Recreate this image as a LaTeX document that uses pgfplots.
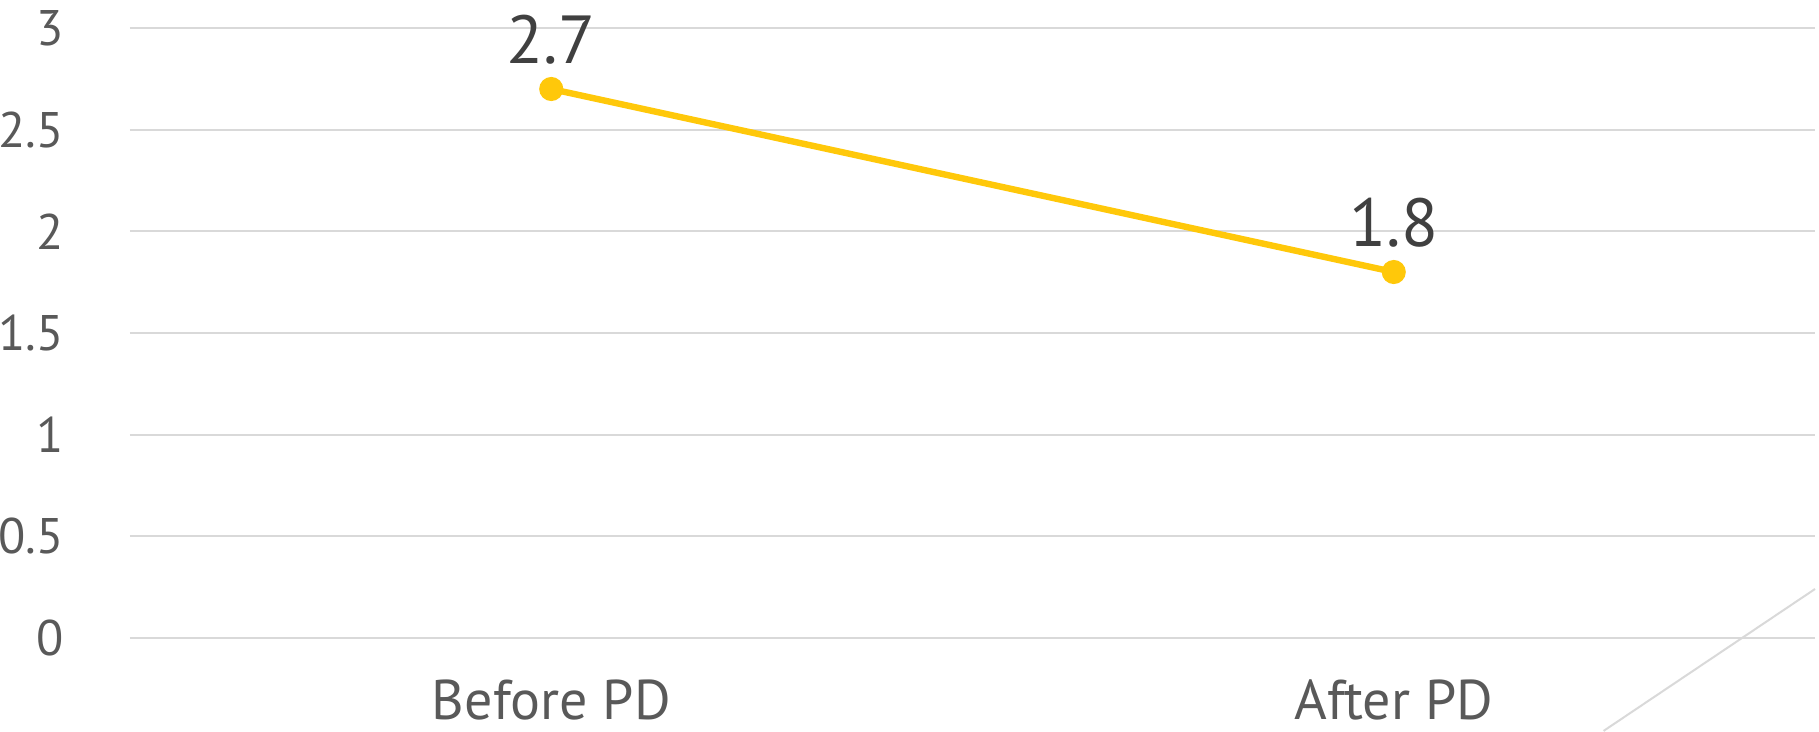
\documentclass[border=0pt]{standalone}
\usepackage{fontspec}
\setmainfont{PT Sans}
\usepackage{pgfplots}
\pgfplotsset{compat=1.18}
\definecolor{gridc}{HTML}{D9D9D9}
\definecolor{tickc}{HTML}{595959}
\definecolor{labc}{HTML}{404040}
\definecolor{linec}{HTML}{FFC80A}
\begin{document}
\begin{tikzpicture}
\begin{axis}[
  name=ax,
  scale only axis,
  width=421.25pt, height=152.5pt,
  xmin=0, xmax=2, ymin=0, ymax=3,
  axis line style={draw=none},
  major tick length=0pt,
  ytick={0,0.5,...,3},
  yticklabels={0,0.5,1,1.5,2,2.5,3},
  xtick={0.5,1.5},
  xticklabels={Before PD, After PD},
  ymajorgrids,
  grid style={gridc, line width=0.5pt},
  tick label style={font=\fontsize{12.5}{15}\selectfont, text=tickc},
  yticklabel style={anchor=east, xshift=-13pt},
  xticklabel style={anchor=center, yshift=-15.5pt, font=\fontsize{14}{16}\selectfont},
  /pgf/number format/assume math mode=true,
  clip=false,
  nodes near coords,
  every node near coord/.append style={font=\fontsize{17}{20}\selectfont, text=labc, anchor=south, yshift=2pt},
]
\addplot[color=linec, line width=1.6pt, mark=*, mark size=2.2pt, mark options={fill=linec, draw=linec}] coordinates {(0.5,2.7) (1.5,1.8)};
\draw[gridc, line width=0.5pt] (axis cs:1.749,-0.457) -- (axis cs:2,0.241);
\end{axis}
\pgfresetboundingbox
\path[use as bounding box] (ax.south west) ++(-32.5pt,-23.25pt) rectangle ++(454.75pt,182.75pt);
\end{tikzpicture}
\end{document}
